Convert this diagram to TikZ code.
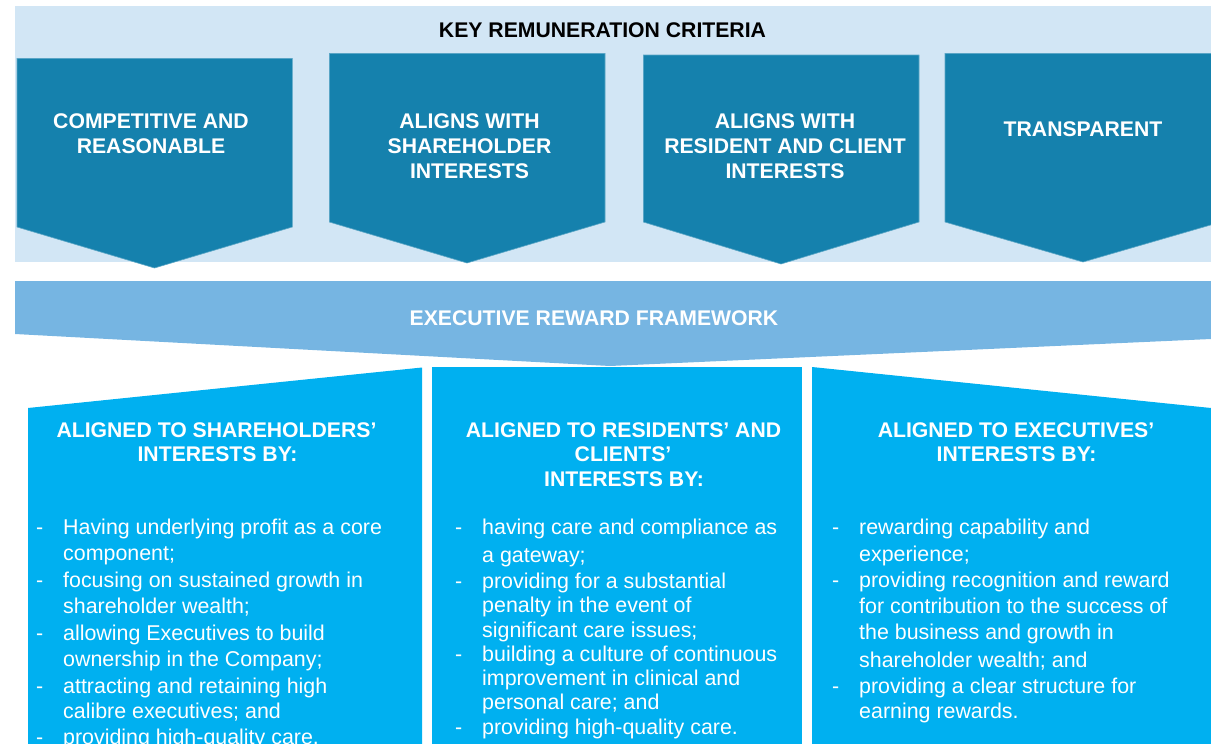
\documentclass[tikz,border=0pt]{standalone}
\usepackage{fontspec}
\setmainfont{Liberation Sans}
\definecolor{bglight}{HTML}{D2E6F5}
\definecolor{chev}{HTML}{1581AD}
\definecolor{band}{HTML}{76B5E2}
\definecolor{panel}{HTML}{00B0F0}
\begin{document}
\begin{tikzpicture}[x=1pt,y=-1pt,
  hd/.style={font=\fontsize{21.2}{25}\selectfont\bfseries, text=white, inner sep=0pt, anchor=base},
  bd/.style={font=\fontsize{21.4}{26}\selectfont, text=white, inner sep=0pt, anchor=base west},
  chevshape/.style={fill=chev, draw=chev!70!white, line width=0.6pt},
  panelshape/.style={fill=panel}]
\useasboundingbox (0,0) rectangle (1211,744);
\clip (0,0) rectangle (1211,744);

% light background
\fill[bglight] (15,6) rectangle (1211,262);
\node[hd, text=black] (title) at (602.5,37.5) {KEY REMUNERATION CRITERIA};

% chevrons
\draw[chevshape] (17,58.3) -- (292.3,58.3) -- (292.3,227) -- (154.5,268) -- (17,227) -- cycle;
\draw[chevshape] (329.3,53.3) -- (605,53.3) -- (605,222) -- (467,263) -- (329.3,222) -- cycle;
\draw[chevshape] (643.3,55) -- (919,55) -- (919,222) -- (781,264) -- (643.3,222) -- cycle;
\draw[chevshape] (945,53.3) -- (1221,53.3) -- (1221,222) -- (1083,262) -- (945,222) -- cycle;

\node[hd] (c1a) at (151,128.5) {COMPETITIVE AND};
\node[hd] (c1b) at (151,153.5) {REASONABLE};
\node[hd] (c2a) at (469.5,128.5) {ALIGNS WITH};
\node[hd] (c2b) at (469.5,153.5) {SHAREHOLDER};
\node[hd] (c2c) at (469.5,178.5) {INTERESTS};
\node[hd] (c3a) at (785,128.5) {ALIGNS WITH};
\node[hd] (c3b) at (785,153.5) {RESIDENT AND CLIENT};
\node[hd] (c3c) at (785,178.5) {INTERESTS};
\node[hd] (c4a) at (1083,136.5) {TRANSPARENT};

% framework band
\fill[band] (15,281) -- (1211,281) -- (1211,339) -- (610,366) -- (15,334) -- cycle;
\node[hd] (frame) at (594,325.5) {EXECUTIVE REWARD FRAMEWORK};

% panels
\fill[panelshape] (28,408) -- (422,367.5) -- (422,760) -- (28,760) -- cycle;
\fill[panelshape] (432,367) rectangle (802,760);
\fill[panelshape] (812,367) -- (1211,408) -- (1211,760) -- (812,760) -- cycle;

% left panel
\node[hd] (h1a) at (216.5,437.5) {ALIGNED TO SHAREHOLDERS’};
\node[hd] (h1b) at (217.5,461.5) {INTERESTS BY:};
\node[bd] (d1a) at (36,534) {-};
\node[bd] (l1a) at (63,534) {Having underlying profit as a core};
\node[bd] (l1b) at (63,560) {component;};
\node[bd] (d1b) at (36,587) {-};
\node[bd] (l1c) at (63,587) {focusing on sustained growth in};
\node[bd] (l1d) at (63,613) {shareholder wealth;};
\node[bd] (d1c) at (36,640) {-};
\node[bd] (l1e) at (63,640) {allowing Executives to build};
\node[bd] (l1f) at (63,666) {ownership in the Company;};
\node[bd] (d1d) at (36,693) {-};
\node[bd] (l1g) at (63,693) {attracting and retaining high};
\node[bd] (l1h) at (63,718.5) {calibre executives; and};
\node[bd] (d1e) at (36,744.5) {-};
\node[bd] (l1i) at (63,744.5) {providing high-quality care.};

% middle panel
\node[hd] (h2a) at (623.5,437.5) {ALIGNED TO RESIDENTS’ AND};
\node[hd] (h2b) at (623,461.5) {CLIENTS’};
\node[hd] (h2c) at (624,486.5) {INTERESTS BY:};
\node[bd] (d2a) at (455,534) {-};
\node[bd] (l2a) at (482,534) {having care and compliance as};
\node[bd] (l2b) at (482,562) {a gateway;};
\node[bd] (d2b) at (455,588) {-};
\node[bd] (l2c) at (482,588) {providing for a substantial};
\node[bd] (l2d) at (482,612) {penalty in the event of};
\node[bd] (l2e) at (482,637) {significant care issues;};
\node[bd] (d2c) at (455,661) {-};
\node[bd] (l2f) at (482,661) {building a culture of continuous};
\node[bd] (l2g) at (482,685) {improvement in clinical and};
\node[bd] (l2h) at (482,709) {personal care; and};
\node[bd] (d2d) at (455,734) {-};
\node[bd] (l2i) at (482,734) {providing high-quality care.};

% right panel
\node[hd] (h3a) at (1016,437.5) {ALIGNED TO EXECUTIVES’};
\node[hd] (h3b) at (1016.5,461.5) {INTERESTS BY:};
\node[bd] (d3a) at (832,534) {-};
\node[bd] (l3a) at (859,534) {rewarding capability and};
\node[bd] (l3b) at (859,561) {experience;};
\node[bd] (d3b) at (832,587) {-};
\node[bd] (l3c) at (859,587) {providing recognition and reward};
\node[bd] (l3d) at (859,613) {for contribution to the success of};
\node[bd] (l3e) at (859,639) {the business and growth in};
\node[bd] (l3f) at (859,667) {shareholder wealth; and};
\node[bd] (d3c) at (832,693) {-};
\node[bd] (l3g) at (859,693) {providing a clear structure for};
\node[bd] (l3h) at (859,718) {earning rewards.};
\end{tikzpicture}
\end{document}
